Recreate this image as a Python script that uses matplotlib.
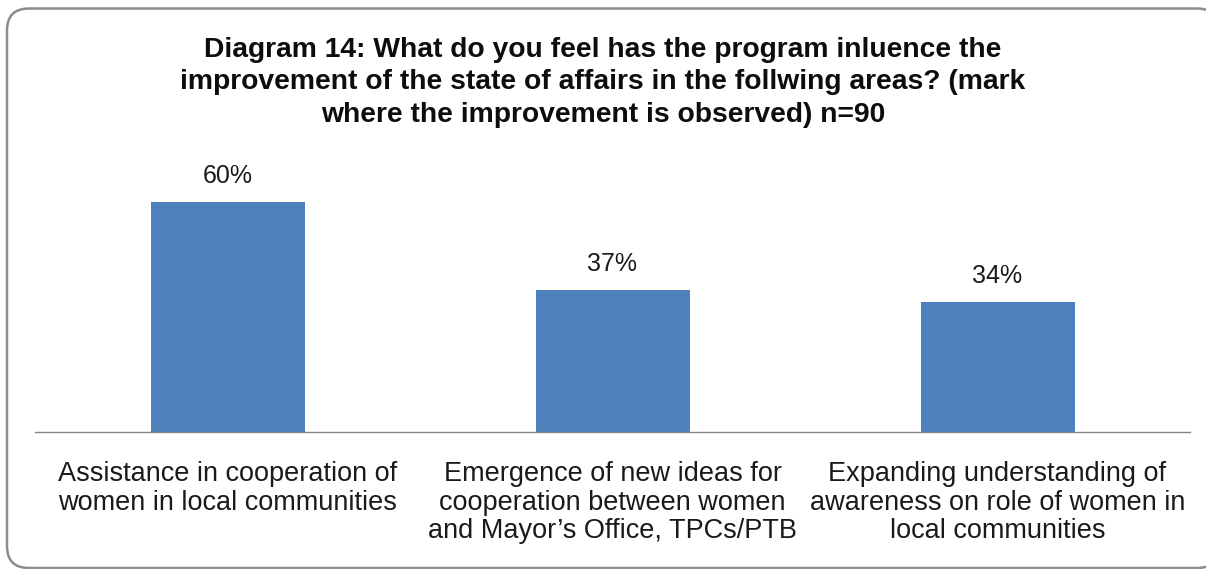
import matplotlib
matplotlib.use("Agg")
import matplotlib.pyplot as plt
from matplotlib.patches import FancyBboxPatch

plt.rcParams['font.family'] = ['Liberation Sans', 'DejaVu Sans']

title_lines = ["Diagram 14: What do you feel has the program inluence the",
               "improvement of the state of affairs in the follwing areas? (mark",
               "where the improvement is observed) n=90"]
categories = [
    "Assistance in cooperation of\nwomen in local communities",
    "Emergence of new ideas for\ncooperation between women\nand Mayor\u2019s Office, TPCs/PTB",
    "Expanding understanding of\nawareness on role of women in\nlocal communities",
]
values = [60, 37, 34]
labels = ["60%", "37%", "34%"]

W, H = 1206, 569
fig = plt.figure(figsize=(W / 100, H / 100), dpi=100)

# background frame in pixel coordinates
bg = fig.add_axes([0, 0, 1, 1])
bg.set_xlim(0, W)
bg.set_ylim(H, 0)
bg.axis('off')
frame = FancyBboxPatch((7, 8.5), 1212, 559.5, boxstyle="round,pad=0,rounding_size=22",
                       linewidth=1.8, edgecolor='#8c8c8c', facecolor='white')
bg.add_patch(frame)

ax_left, ax_right = 35, 1190
ax_bottom = 432
ymax = 70
ax_h = ymax * 230 / 60
ax = fig.add_axes([ax_left / W, (H - ax_bottom) / H, (ax_right - ax_left) / W, ax_h / H])
ax.patch.set_alpha(0)
x = list(range(len(values)))
ax.bar(x, values, width=0.4, color='#4F81BD')
ax.set_xlim(-0.5, 2.5)
ax.set_ylim(0, ymax)
for s in ['top', 'right', 'left']:
    ax.spines[s].set_visible(False)
ax.spines['bottom'].set_color('#868686')
ax.spines['bottom'].set_linewidth(1.0)
ax.set_yticks([])
ax.set_xticks(x)
ax.set_xticklabels(categories, fontsize=19.5, color='#1a1a1a', linespacing=1.12)
ax.tick_params(axis='x', length=0, pad=21)
for xi, v, lab in zip(x, values, labels):
    ax.annotate(lab, (xi, v), xytext=(0, 13.5), textcoords='offset points',
                ha='center', va='baseline', fontsize=18, color='#1a1a1a')

for line, yb in zip(title_lines, [56.7, 89.3, 121.7]):
    bg.text(603, yb, line, ha='center', va='baseline', fontsize=20.3,
            fontweight='bold', color='#0d0d0d')

fig.savefig("out.png", dpi=100)
